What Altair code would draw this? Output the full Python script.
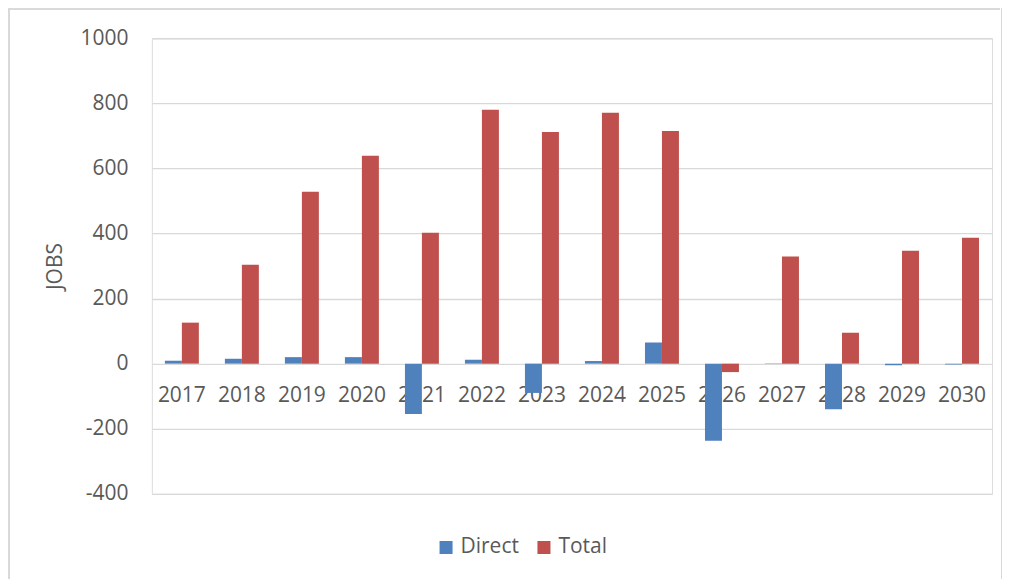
import altair as alt
import pandas as pd

years = ["2017", "2018", "2019", "2020", "2021", "2022", "2023",
         "2024", "2025", "2026", "2027", "2028", "2029", "2030"]
direct = [9, 15, 20, 20, -155, 12, -90, 8, 65, -237, 1, -140, -5, -3]
total = [126, 304, 528, 639, 402, 780, 712, 771, 715, -26, 329, 95, 347, 387]
series = ["Direct", "Total"]
colors = ["#4F81BD", "#C0504D"]

rows = []
for i, y in enumerate(years):
    rows.append({"year": y, "series": "Direct", "value": direct[i]})
    rows.append({"year": y, "series": "Total", "value": total[i]})
df = pd.DataFrame(rows)

FONT = "Open Sans"
TXT = "#595959"

bars = alt.Chart(df).mark_bar().encode(
    x=alt.X("year:N", sort=years,
            scale=alt.Scale(paddingInner=0.434, paddingOuter=0.217),
            axis=alt.Axis(title=None, labelAngle=0, ticks=False, domain=False,
                          offset=-130, labelPadding=21, labelFontSize=21,
                          labelColor=TXT, labelFont=FONT, grid=False)),
    xOffset=alt.XOffset("series:N", sort=series),
    y=alt.Y("value:Q",
            scale=alt.Scale(domain=[-400, 1000], nice=False),
            axis=alt.Axis(title="JOBS", values=list(range(-400, 1001, 200)),
                          labelExpr="'' + datum.value",
                          ticks=False, domain=False, labelPadding=24,
                          labelFontSize=21, labelColor=TXT, labelFont=FONT,
                          titleFontSize=21, titleColor=TXT, titleFont=FONT,
                          titleFontWeight="normal", titlePadding=14,
                          gridColor="#d9d9d9", gridWidth=1.3)),
    color=alt.Color("series:N", sort=series,
                    scale=alt.Scale(domain=series, range=colors),
                    legend=alt.Legend(title=None, orient="none", direction="horizontal",
                                      legendX=284, legendY=499, symbolType="square",
                                      symbolSize=170, symbolStrokeWidth=0,
                                      labelFontSize=21, labelColor=TXT, labelFont=FONT,
                                      columnPadding=14, labelOffset=4)),
)

border_top = alt.Chart(df).mark_rule(color="#d9d9d9", strokeWidth=1.5).encode(
    x=alt.value(-144), x2=alt.value(849), y=alt.value(-29)
)
border_left = alt.Chart(df).mark_rule(color="#d9d9d9", strokeWidth=1.5).encode(
    x=alt.value(-143), y=alt.value(-30), y2=alt.value(545)
)
border_right = alt.Chart(df).mark_rule(color="#d9d9d9", strokeWidth=1.5).encode(
    x=alt.value(851), y=alt.value(-30), y2=alt.value(545)
)

chart = alt.layer(border_top, border_left, border_right, bars).properties(
    width=841, height=456,
    autosize=alt.AutoSizeParams(type="none"),
    padding={"left": 144, "top": 30, "right": 10, "bottom": 85},
).configure_view(stroke=None).configure(background="white")

chart.save("out.html", embed_options={"renderer": "svg", "actions": False})
